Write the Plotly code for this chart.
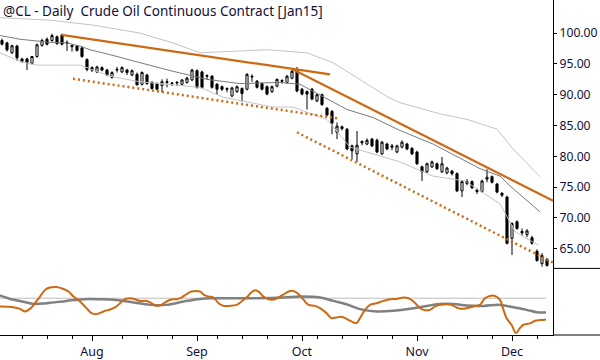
import plotly.graph_objects as go

# ---------------- data (bar index 0 = 8 Jul 2014, trading days) ----------------
opens = [98.8, 98.4, 96.8, 97.9, 95.8, 95.8, 95.1, 96.2, 98.0, 99.0,
         98.8, 99.4, 99.7, 98.5, 98.0, 97.9, 97.6, 95.7, 94.4, 93.7,
         94.4, 94.0, 92.8, 94.0, 93.7, 94.0, 93.2, 93.3, 91.7, 93.2,
         92.0, 91.8, 91.5, 92.0, 91.8, 91.9, 91.7, 92.0, 92.4, 93.9,
         93.7, 93.0, 93.0, 91.7, 91.3, 91.0, 89.8, 90.5, 91.0, 90.9,
         93.0, 92.2, 91.8, 91.3, 90.5, 91.4, 92.3, 92.0, 92.7, 94.1,
         90.9, 90.5, 90.9, 89.0, 90.0, 87.8, 87.3, 83.9, 84.8, 84.4,
         81.7, 80.4, 82.2, 82.0, 82.8, 82.6, 80.4, 82.0, 81.7, 80.7,
         81.5, 82.0, 81.3, 80.7, 78.3, 77.5, 78.3, 78.8, 77.5, 77.3,
         77.6, 77.2, 74.4, 75.9, 75.9, 74.5, 74.3, 76.3, 76.7, 75.5,
         74.0, 73.4, 66.7, 69.4, 67.8, 67.3, 66.8, 64.6, 62.6, 63.3]
highs = [99.1, 98.6, 98.1, 98.1, 96.0, 96.0, 96.3, 98.3, 99.1, 99.3,
         99.9, 99.6, 99.9, 98.8, 98.1, 98.0, 97.8, 95.9, 94.6, 94.7,
         94.6, 94.2, 93.8, 94.5, 94.6, 94.2, 94.1, 93.6, 93.8, 93.4,
         92.2, 92.0, 92.5, 92.6, 92.0, 92.2, 92.5, 92.9, 94.2, 94.1,
         93.9, 93.3, 93.2, 91.9, 91.5, 91.2, 91.3, 91.5, 91.2, 93.5,
         93.3, 92.4, 92.0, 91.5, 91.5, 92.6, 92.5, 93.2, 94.0, 94.5,
         91.1, 90.7, 91.1, 90.2, 90.2, 88.0, 87.5, 85.5, 85.0, 84.6,
         81.9, 84.1, 82.6, 82.9, 83.0, 82.9, 82.5, 82.2, 82.0, 81.9,
         82.6, 82.2, 81.5, 80.9, 78.5, 79.0, 79.3, 79.0, 79.9, 78.3,
         77.8, 77.4, 76.1, 76.3, 76.1, 74.8, 76.2, 77.9, 76.9, 75.7,
         74.2, 73.6, 69.3, 69.6, 68.3, 68.2, 67.1, 64.9, 64.3, 63.5]
lows = [98.0, 97.0, 96.6, 95.5, 95.2, 94.0, 94.9, 96.0, 97.8, 98.0,
        98.6, 98.1, 98.0, 97.1, 97.0, 97.0, 96.0, 93.8, 93.7, 93.5,
        93.8, 93.0, 92.6, 93.6, 93.5, 93.2, 93.0, 91.5, 91.5, 91.6,
        90.8, 90.7, 90.4, 91.2, 91.4, 91.4, 91.5, 91.8, 92.2, 91.0,
        91.0, 92.4, 91.0, 90.0, 90.6, 90.4, 89.6, 90.3, 88.9, 90.7,
        92.1, 91.0, 90.7, 89.9, 90.3, 91.2, 91.8, 91.8, 92.5, 90.4,
        89.9, 87.6, 89.1, 88.8, 88.2, 86.5, 83.6, 82.8, 84.2, 81.0,
        79.6, 79.1, 81.8, 81.8, 81.5, 80.5, 80.2, 81.0, 81.0, 80.5,
        81.3, 81.0, 80.2, 78.6, 76.0, 77.3, 78.1, 77.8, 77.3, 77.1,
        76.9, 74.2, 73.4, 75.3, 74.7, 73.9, 74.1, 75.8, 75.6, 74.0,
        73.4, 65.7, 64.0, 68.1, 67.1, 66.9, 65.7, 62.9, 62.1, 62.1]
closes = [98.2, 97.3, 97.95, 96.0, 95.4, 95.2, 96.2, 98.1, 98.8, 98.2,
          99.6, 98.3, 98.2, 98.4, 97.8, 97.2, 96.2, 94.1, 94.0, 94.5,
          94.0, 93.2, 93.6, 94.1, 94.4, 93.6, 93.9, 91.6, 93.6, 91.8,
          91.0, 90.9, 92.1, 92.1, 91.9, 92.0, 92.4, 92.7, 94.0, 91.2,
          91.2, 93.1, 91.2, 90.9, 90.9, 90.9, 91.1, 91.3, 90.2, 93.3,
          92.9, 91.2, 90.9, 90.1, 91.3, 92.5, 92.2, 93.0, 93.8, 90.6,
          90.1, 90.1, 89.3, 90.0, 88.4, 86.7, 85.4, 84.9, 84.5, 81.2,
          80.9, 81.8, 82.4, 82.6, 81.7, 80.7, 82.3, 81.2, 81.5, 81.7,
          82.3, 81.2, 80.4, 78.8, 77.5, 78.8, 79.1, 78.0, 78.8, 78.1,
          77.2, 74.4, 75.9, 75.6, 74.9, 74.3, 76.0, 76.6, 75.8, 74.2,
          73.7, 65.9, 69.1, 68.3, 67.6, 67.9, 65.9, 63.1, 63.9, 62.3]

# channel lines: (bar index, price)
mid_x = [-0.4, 3.6, 9.6, 13.0, 15.6, 17.6, 21.6, 25.6, 27.6, 34.2, 41.0, 47.6, 55.6, 59.6,
         64.2, 69.0, 74.2, 79.6, 86.2, 95.6, 99.6, 101.6, 107.6]
mid_y = [99.6, 99.0, 98.5, 98.4, 97.9, 97.3, 96.5, 95.7, 95.2, 93.8, 92.5, 91.8, 92.0, 91.7,
         89.7, 87.6, 86.3, 84.2, 82.0, 78.0, 76.8, 75.2, 71.0]
up_x = [-0.4, 9.6, 18.2, 27.6, 34.2, 39.6, 53.0, 61.0, 66.2, 71.6, 77.0, 79.6, 87.6, 93.0,
        99.0, 102.2, 107.6]
up_y = [102.5, 102.1, 101.3, 100.0, 98.4, 96.8, 97.3, 96.8, 95.2, 92.5, 89.7, 88.7, 86.9, 86.0,
        84.4, 81.2, 76.7]
lo_x = [-0.4, 3.6, 7.0, 15.6, 21.6, 27.6, 39.6, 44.2, 54.2, 58.2, 62.2, 65.0, 69.6, 79.6,
        86.2, 92.6, 99.6, 102.6, 107.2]
lo_y = [96.8, 95.4, 94.8, 94.8, 93.0, 92.1, 91.2, 89.6, 88.0, 88.0, 86.8, 86.0, 81.5, 79.1,
        76.8, 76.0, 72.3, 67.8, 65.6]

# trend lines: (x0, y0, x1, y1) in bar index / price
solid_lines = [(11.9, 99.7, 65.6, 93.3), (58.2, 94.1, 110.2, 72.8)]
dotted_lines = [(14.2, 92.6, 67.6, 86.1), (59.0, 83.9, 110.6, 62.6)]

# lower panel oscillators
osc_x = [-0.4, 2.3, 3.6, 4.6, 5.6, 6.6, 7.6, 8.6, 9.6, 10.9, 12.3, 13.3, 14.3, 15.6, 16.9, 17.9,
         18.9, 20.3, 21.6, 22.6, 23.6, 24.6, 25.6, 26.6, 27.6, 28.9, 29.9, 30.9, 31.9, 32.9,
         33.9, 34.9, 35.9, 36.9, 37.9, 39.6, 40.4, 41.3, 42.3, 43.3, 44.3, 45.6, 46.9, 47.9,
         48.9, 49.9, 50.6, 51.3, 52.3, 53.3, 54.6, 55.6, 56.6, 57.6, 58.6, 59.6, 60.6, 61.3,
         62.6, 63.6, 64.9, 65.9, 66.9, 67.9, 68.9, 69.9, 70.9, 71.6, 72.6, 73.6, 74.9, 76.3,
         77.6, 78.9, 80.3, 81.3, 82.3, 83.3, 84.3, 85.6, 86.6, 87.6, 88.9, 89.9, 90.9, 91.9,
         92.9, 94.3, 95.6, 96.6, 97.6, 98.6, 99.6, 100.3, 100.9, 101.9, 102.8, 103.6, 104.3,
         105.6, 106.6, 107.6, 108.8]
osc_y = [-8.3, -9, -10.7, -13.3, -10.7, -5, 1.7, 8.3, 10.7, 11.3, 9.3, 6.7, 1.7, -3.3, -10, -15,
         -16, -13.3, -11.3, -9.3, -5, -1, 0, -1, -2.7, -2.7, -5, -7.7, -6.7, -3.3,
         -1.3, -1, 0.7, 4, 6.7, 6.7, 3.3, 1.7, 0.7, -5, -7.7, -7.7, -6.7, -3.3,
         0.7, 6, 8, 6.7, 1.7, -1, -1, 1.7, 4.7, 7.3, 6.7, 2.7, -3.3, -6.7,
         -7.7, -10, -15, -20, -19.3, -18.7, -20.7, -23.3, -25, -20, -11.7, -6.7, -5, -2.7,
         -1, -0.7, 0.7, 0, -3.3, -8.3, -11.7, -11.7, -8.3, -6.7, -6, -6.7, -9.3, -10.7,
         -10, -8.3, -6.7, 0, 2.3, 2.3, -1.7, -11.7, -20, -26.7, -35, -30, -26.7,
         -25.3, -22.7, -22, -21.3]
sig_x = [-0.4, 1.6, 3.6, 6.3, 8.9, 12.9, 16.3, 19.6, 22.9, 26.3, 29.6, 32.9, 36.3, 39.6, 42.9,
         49.6, 56.3, 59.6, 63.6, 66.3, 68.9, 71.6, 74.9, 78.3, 81.6, 84.3, 87.6, 90.3, 92.9,
         96.3, 99.6, 102.3, 104.9, 106.9, 108.8]
sig_y = [2.7, -0.7, -2.7, -5.7, -5, -2.7, -1, -1, -1.7, -4.3, -6.7, -6.7, -3.3, -0.7, 0,
         0, 0.7, 1.7, 0.7, -2.7, -6, -11, -13.3, -12.7, -10.7, -8.3, -5.7, -5.7, -7.3,
         -7.7, -6.7, -9, -11.7, -14, -14.3]
ref_x = [-0.4, 108.8]
ref_y = [0, 0]

# axes labels
month_pos = [18, 39, 60, 83, 102]
month_txt = ["Aug", "Sep", "Oct", "Nov", "Dec"]
week_pos = [4, 9, 14, 24, 29, 34, 43, 48, 53, 58, 63, 68, 73, 78, 88, 93, 98, 107]
price_ticks = [65, 70, 75, 80, 85, 90, 95, 100]

# ---------------- figure ----------------
ORANGE = "#cc6a14"
TXT = "#10103a"
FONT = "Noto Sans"
split = 67 / 337

idx = list(range(len(opens)))
fig = go.Figure()
fig.add_trace(go.Scatter(x=up_x, y=up_y, mode="lines", line=dict(color="#c4c4c4", width=1), hoverinfo="skip"))
fig.add_trace(go.Scatter(x=lo_x, y=lo_y, mode="lines", line=dict(color="#c4c4c4", width=1), hoverinfo="skip"))
fig.add_trace(go.Scatter(x=mid_x, y=mid_y, mode="lines", line=dict(color="#7a7a7a", width=1), hoverinfo="skip"))

for (x0, y0, x1, y1) in dotted_lines:
    fig.add_trace(go.Scatter(x=[x0, x1], y=[y0, y1], mode="lines",
                             line=dict(color=ORANGE, width=2.5, dash="2px,3px"), hoverinfo="skip"))

fig.add_trace(go.Candlestick(
    x=idx, open=opens, high=highs, low=lows, close=closes,
    increasing=dict(line=dict(color="black", width=1), fillcolor="white"),
    decreasing=dict(line=dict(color="black", width=1), fillcolor="black"),
    whiskerwidth=0, hoverinfo="skip"))

for (x0, y0, x1, y1) in solid_lines:
    fig.add_trace(go.Scatter(x=[x0, x1], y=[y0, y1], mode="lines",
                             line=dict(color=ORANGE, width=2.2), hoverinfo="skip"))

fig.add_trace(go.Scatter(x=ref_x, y=ref_y, yaxis="y2", mode="lines",
                         line=dict(color="#bdbdbd", width=1), hoverinfo="skip"))
fig.add_trace(go.Scatter(x=sig_x, y=sig_y, yaxis="y2", mode="lines", line_shape="spline",
                         line=dict(color="#808080", width=2.5), hoverinfo="skip"))
fig.add_trace(go.Scatter(x=osc_x, y=osc_y, yaxis="y2", mode="lines", line_shape="spline",
                         line=dict(color=ORANGE, width=2), hoverinfo="skip"))

fig.update_layout(
    width=600, height=360, autosize=False,
    margin=dict(l=0, r=47, t=0, b=23),
    paper_bgcolor="white", plot_bgcolor="white",
    showlegend=False, boxgap=0.4,
    font=dict(family=FONT, size=12, color=TXT),
    xaxis=dict(range=[-0.4, 110.2], anchor="y2", showgrid=False, zeroline=False,
               showline=True, linecolor="black", linewidth=1,
               ticks="outside", ticklen=5, tickcolor="black", tickwidth=1,
               tickvals=month_pos, ticktext=month_txt,
               tickfont=dict(family=FONT, size=12.5, color=TXT),
               minor=dict(tickvals=week_pos, ticks="outside", ticklen=3, tickcolor="black", tickwidth=1),
               rangeslider=dict(visible=False)),
    yaxis=dict(domain=[split, 1], range=[61.82, 105.37], side="right", anchor="x",
               showgrid=False, zeroline=False, showline=True, linecolor="black", linewidth=1,
               ticks="outside", ticklen=3, tickcolor="black",
               tickvals=price_ticks, tickformat=".2f",
               tickfont=dict(family=FONT, size=12.2, color=TXT)),
    yaxis2=dict(domain=[0, split], range=[-37, 30], side="right", anchor="x",
                showgrid=False, zeroline=False, showline=True, linecolor="black", linewidth=1,
                showticklabels=False, ticks=""),
    shapes=[
        dict(type="line", xref="paper", yref="paper", x0=1, x1=1.09, y0=split, y1=split,
             line=dict(color="black", width=1)),
        dict(type="line", xref="paper", yref="paper", x0=1, x1=1.09, y0=0, y1=0,
             line=dict(color="black", width=1)),
    ],
    annotations=[
        dict(xref="paper", yref="paper", x=0.002, y=1.0, xanchor="left", yanchor="top",
             showarrow=False, text="@CL - Daily\u00a0\u00a0Crude Oil Continuous Contract [Jan15]",
             font=dict(family=FONT, size=13.5, color=TXT)),
    ],
)

fig.write_html("out.html", config={"displayModeBar": False, "staticPlot": True},
               post_script="document.body.style.margin='0';document.body.style.overflow='hidden';")
